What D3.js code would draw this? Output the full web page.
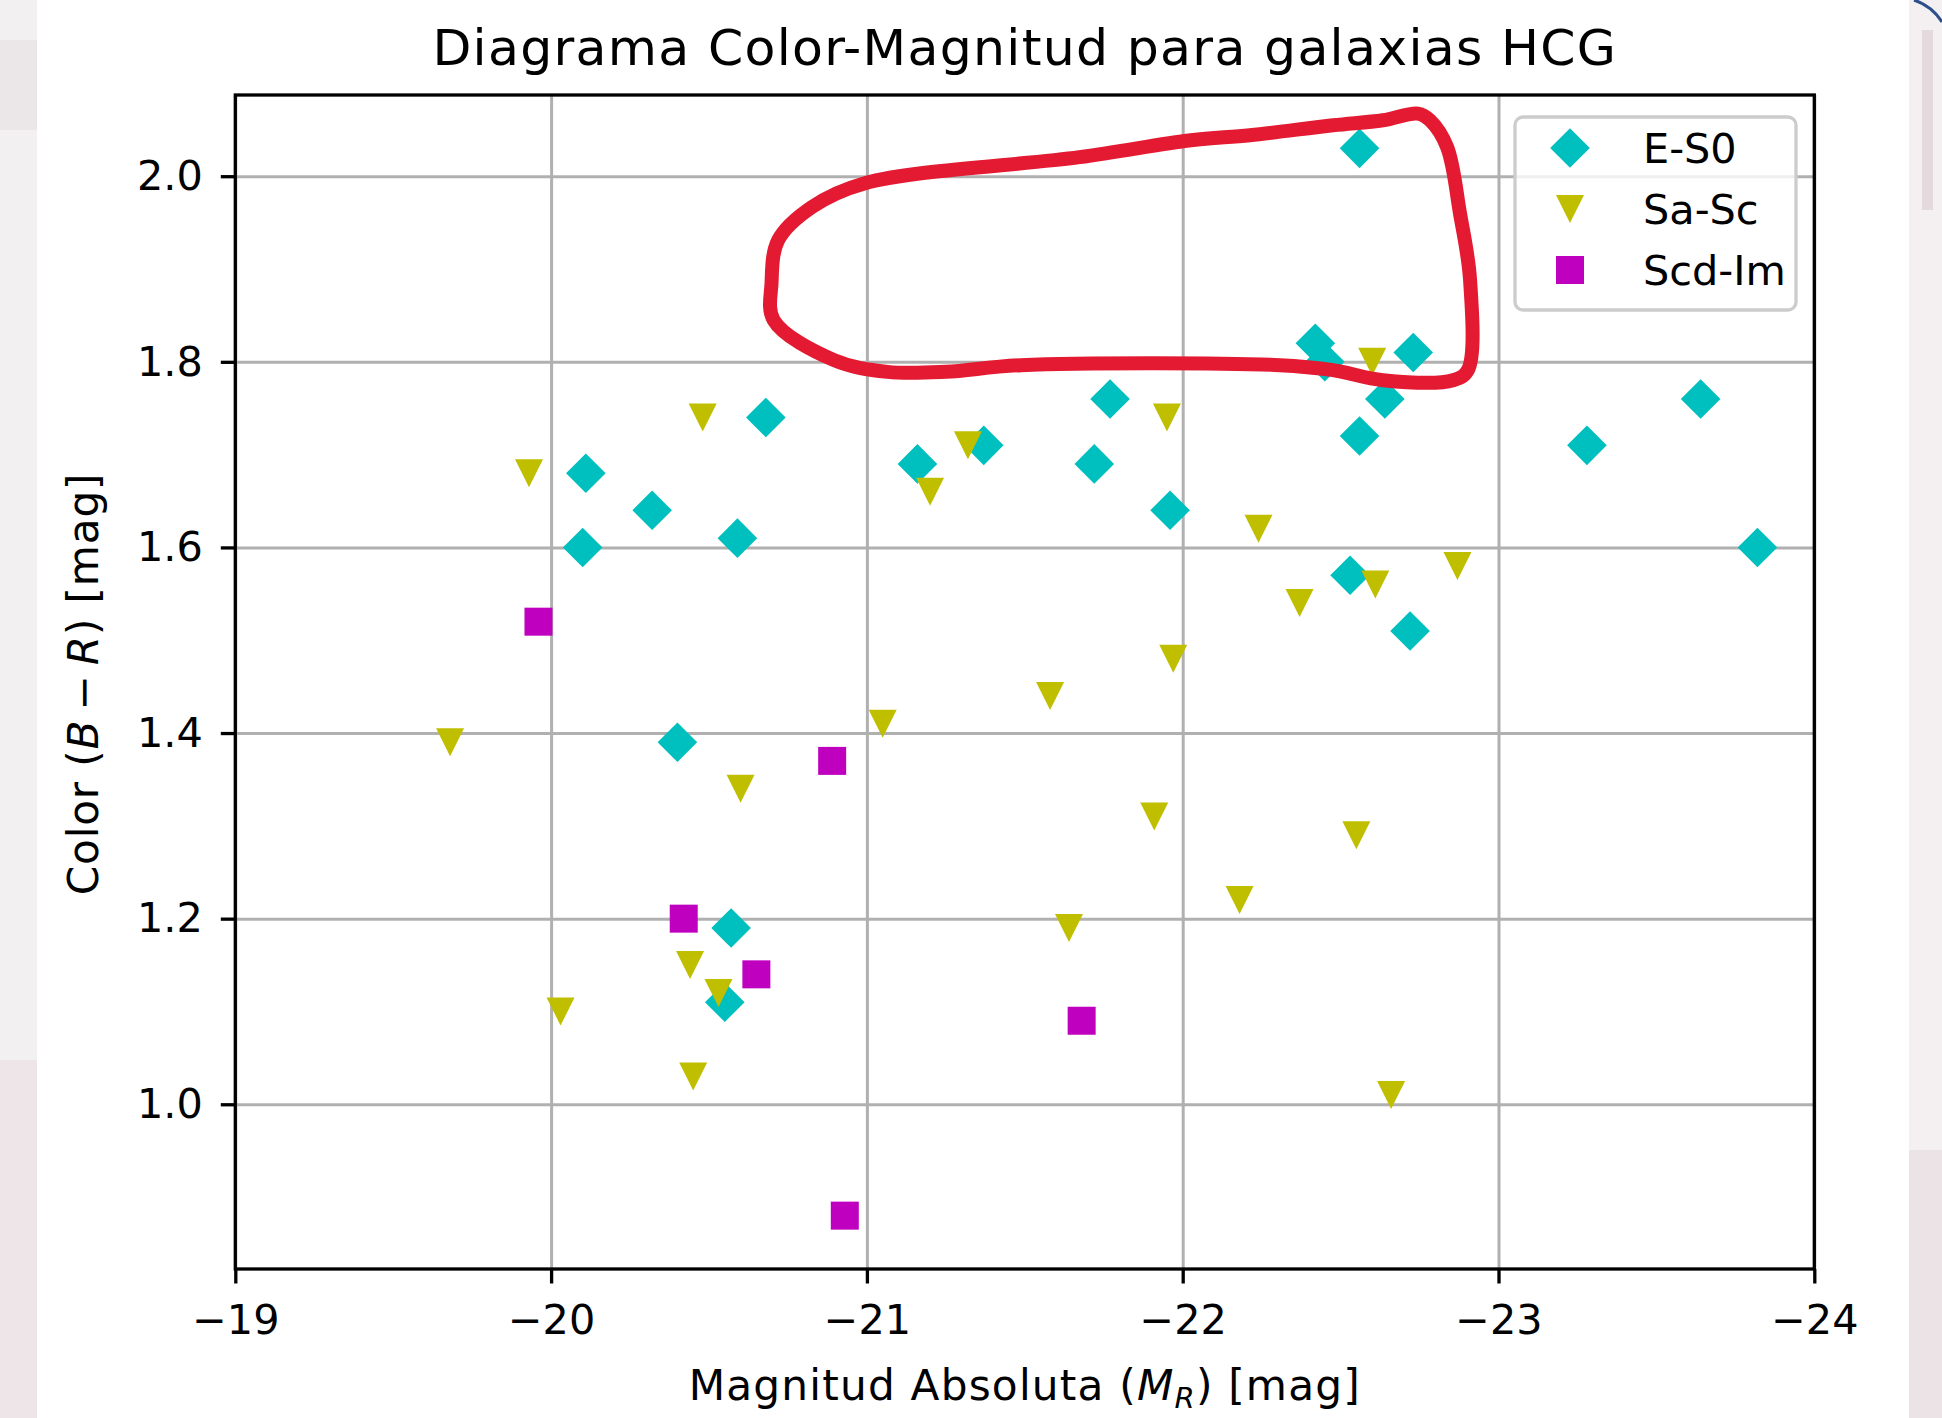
<!DOCTYPE html>
<html>
<head>
<meta charset="utf-8">
<script src="https://cdn.jsdelivr.net/npm/d3@7"></script>
<style>
  body { margin: 0; background: #fff; }
  svg { display: block; font-family: "DejaVu Sans", sans-serif; }
</style>
</head>
<body>
<div id="chart"></div>
<script>
// Datos: magnitud absoluta M_R y color B-R por tipo morfologico
const magES0 = [-22.56, -22.42, -22.45, -22.73, -22.64, -22.56, -23.64, -23.28, -23.82, -22.53, -22.72, -21.77,
                -21.72, -21.96, -21.37, -21.16, -20.68, -20.59, -20.32, -20.11, -20.10, -20.40, -20.57, -20.55];
const colES0 = [2.03, 1.82, 1.80, 1.81, 1.76, 1.72, 1.76, 1.71, 1.60, 1.57, 1.51, 1.76,
                1.69, 1.64, 1.71, 1.69, 1.74, 1.61, 1.64, 1.68, 1.60, 1.39, 1.19, 1.11];

const magSaSc = [-19.93, -20.48, -19.68, -20.60, -20.44, -20.53, -20.03, -20.45, -21.20, -21.32, -21.05, -21.58,
                 -21.95, -21.97, -21.91, -21.64, -22.24, -22.37, -22.18, -22.60, -22.61, -22.87, -22.55, -22.66];
const colSaSc = [1.68, 1.74, 1.39, 1.34, 1.15, 1.12, 1.10, 1.03, 1.66, 1.71, 1.41, 1.44,
                 1.74, 1.48, 1.31, 1.19, 1.62, 1.54, 1.22, 1.80, 1.56, 1.58, 1.29, 1.01];

const magScdIm = [-19.96, -20.89, -20.42, -20.65, -21.68, -20.93];
const colScdIm = [1.52, 1.37, 1.20, 1.14, 1.09, 0.88];

const seriesNames = ["E-S0", "Sa-Sc", "Scd-Im"];
const seriesColors = ["#00bfbf", "#bfbf00", "#bf00bf"];

const xTicks = [-19, -20, -21, -22, -23, -24];
const yTicks = [1.0, 1.2, 1.4, 1.6, 1.8, 2.0];

// contorno rojo dibujado a mano (en unidades de los ejes)
const loopMag = [-22.745, -22.783, -22.837, -22.878, -22.910, -22.903, -22.856, -22.634, -22.476, -22.308, -21.488, -21.249,
                 -21.065, -20.896, -20.705, -20.698, -20.719, -20.825, -20.994, -21.673, -22.026, -22.213, -22.476, -22.634];
const loopCol = [2.0675, 2.0603, 2.0316, 1.9601, 1.8880, 1.7910, 1.7802, 1.7802, 1.7910, 1.7964, 1.7964, 1.7892,
                 1.7892, 1.8018, 1.8449, 1.8847, 1.9311, 1.9666, 1.9925, 2.0205, 2.0388, 2.0442, 2.0549, 2.0603];

const W = 1942, H = 1418;
const margin = { top: 95, right: 127.7, bottom: 149, left: 235.3 };
const width = W - margin.left - margin.right;
const height = H - margin.top - margin.bottom;
const fs = 41.4;          // tamano de fuente de las marcas
const ms = 28;            // tamano de marcador

const mags = [magES0, magSaSc, magScdIm];
const cols = [colES0, colSaSc, colScdIm];
let series = seriesNames.map((name, i) => ({
    name: name,
    color: seriesColors[i],
    points: mags[i].map((m, j) => ({ mag: m, col: cols[i][j] }))
}));

let svg = d3.select("#chart").append("svg")
    .attr("width", W)
    .attr("height", H);

// fondo de la diapositiva
svg.append("rect").attr("width", W).attr("height", H).attr("fill", "#ffffff");
svg.append("rect").attr("x", 0).attr("y", 0).attr("width", 37).attr("height", H).attr("fill", "#f2f0f1");
svg.append("rect").attr("x", 0).attr("y", 1060).attr("width", 37).attr("height", 358).attr("fill", "#ede5e8");
svg.append("rect").attr("x", 0).attr("y", 40).attr("width", 37).attr("height", 90).attr("fill", "#ebe6e8");
svg.append("rect").attr("x", 1909).attr("y", 0).attr("width", 33).attr("height", H).attr("fill", "#f4f0f1");
svg.append("rect").attr("x", 1922).attr("y", 30).attr("width", 11).attr("height", 180).attr("fill", "#e4dadd");
svg.append("rect").attr("x", 1909).attr("y", 1150).attr("width", 33).attr("height", 268).attr("fill", "#ece3e6");
svg.append("path").attr("d", "M1914,0 Q1932,6 1942,22")
    .attr("fill", "none").attr("stroke", "#2e4f8c").attr("stroke-width", 3);

// titulo
svg.append("text")
    .attr("x", margin.left + width / 2)
    .attr("y", 65)
    .attr("text-anchor", "middle")
    .style("font-size", (fs * 1.22) + "px")
    .style("letter-spacing", "1.3px")
    .style("fill", "#000")
    .text("Diagrama Color-Magnitud para galaxias HCG");

let g = svg.append("g")
    .attr("transform", `translate(${margin.left},${margin.top})`);

// escalas (eje x invertido; eje y con margen del 5%)
let x = d3.scaleLinear().domain([-19, -24]).range([0, width]);
let allCol = cols.flat();
let [cMin, cMax] = d3.extent(allCol);
let pad = (cMax - cMin) * 0.05;
let y = d3.scaleLinear().domain([cMin - pad, cMax + pad]).range([height, 0]);

// rejilla
g.append("g")
    .attr("class", "grid")
    .attr("transform", `translate(0,${height})`)
    .call(d3.axisBottom(x).tickValues(xTicks).tickSize(-height).tickFormat(""))
    .call(s => s.select(".domain").remove())
    .selectAll("line")
    .style("stroke", "#b0b0b0")
    .style("stroke-width", 3);
g.append("g")
    .attr("class", "grid")
    .call(d3.axisLeft(y).tickValues(yTicks).tickSize(-width).tickFormat(""))
    .call(s => s.select(".domain").remove())
    .selectAll("line")
    .style("stroke", "#b0b0b0")
    .style("stroke-width", 3);

// marcadores con la forma de matplotlib
const diamond = { draw(ctx, size) { let r = Math.sqrt(size) * Math.SQRT1_2;
    ctx.moveTo(0, -r); ctx.lineTo(r, 0); ctx.lineTo(0, r); ctx.lineTo(-r, 0); ctx.closePath(); } };
const triDown = { draw(ctx, size) { let h = Math.sqrt(size) / 2;
    ctx.moveTo(-h, -h); ctx.lineTo(h, -h); ctx.lineTo(0, h); ctx.closePath(); } };
const square = { draw(ctx, size) { let h = Math.sqrt(size) / 2;
    ctx.rect(-h, -h, 2 * h, 2 * h); } };
const shapes = [diamond, triDown, square];

series.forEach((s, i) => {
    g.append("g").selectAll("path")
        .data(s.points)
        .enter()
        .append("path")
        .attr("transform", d => `translate(${x(d.mag)},${y(d.col)})`)
        .attr("d", d3.symbol().type(shapes[i]).size(ms * ms))
        .attr("fill", s.color);
});

// contorno rojo
let loop = loopMag.map((m, i) => [m, loopCol[i]]);
g.append("path")
    .datum(loop)
    .attr("d", d3.line().x(d => x(d[0])).y(d => y(d[1])).curve(d3.curveCatmullRomClosed.alpha(0.5)))
    .attr("fill", "none")
    .attr("stroke", "#e31a31")
    .attr("stroke-width", 14)
    .attr("stroke-linejoin", "round");

// marco
g.append("rect")
    .attr("width", width).attr("height", height)
    .attr("fill", "none").attr("stroke", "#000").attr("stroke-width", 3.3);

// ejes
let xAxis = g.append("g")
    .attr("transform", `translate(0,${height})`)
    .call(d3.axisBottom(x).tickValues(xTicks).tickSize(14.5).tickPadding(21).tickFormat(d3.format("d")));
let yAxis = g.append("g")
    .call(d3.axisLeft(y).tickValues(yTicks).tickSize(14.5).tickPadding(18).tickFormat(d3.format(".1f")));
[xAxis, yAxis].forEach(a => {
    a.select(".domain").remove();
    a.selectAll("line").style("stroke", "#000").style("stroke-width", 3.3);
    a.selectAll("text")
        .style("font-size", fs + "px")
        .style("font-family", "DejaVu Sans")
        .style("fill", "#000");
});

// etiquetas de ejes
let xl = svg.append("text")
    .attr("x", margin.left + width / 2)
    .attr("y", 1400)
    .attr("text-anchor", "middle")
    .style("font-size", (fs * 1.02) + "px")
    .style("letter-spacing", "1.2px")
    .style("fill", "#000");
xl.append("tspan").text("Magnitud Absoluta (");
xl.append("tspan").style("font-style", "italic").text("M");
xl.append("tspan").style("font-style", "italic").style("font-size", (fs * 0.7) + "px").attr("dy", 8).text("R");
xl.append("tspan").attr("dy", -8).text(") [mag]");

let yl = svg.append("text")
    .attr("transform", `translate(97.5,${margin.top + height / 2 + 2}) rotate(-90)`)
    .attr("text-anchor", "middle")
    .style("font-size", (fs * 1.02) + "px")
    .style("letter-spacing", "0.8px")
    .style("fill", "#000");
yl.append("tspan").text("Color (");
yl.append("tspan").style("font-style", "italic").text("B");
yl.append("tspan").text("\u2009\u2212\u2009");
yl.append("tspan").style("font-style", "italic").text("R");
yl.append("tspan").text(") [mag]");

// leyenda
let legend = svg.append("g").attr("transform", "translate(1515,117)");
legend.append("rect")
    .attr("width", 281).attr("height", 193)
    .attr("rx", 8).attr("ry", 8)
    .attr("fill", "#fff").attr("fill-opacity", 0.8)
    .attr("stroke", "#cccccc").attr("stroke-width", 3.3);
series.forEach((s, i) => {
    let row = legend.append("g").attr("transform", `translate(55,${31 + i * 61})`);
    row.append("path")
        .attr("d", d3.symbol().type(shapes[i]).size(ms * ms))
        .attr("fill", s.color);
    row.append("text")
        .attr("x", 73)
        .attr("y", 15)
        .style("font-size", fs + "px")
        .style("fill", "#000")
        .text(s.name);
});
</script>
</body>
</html>
